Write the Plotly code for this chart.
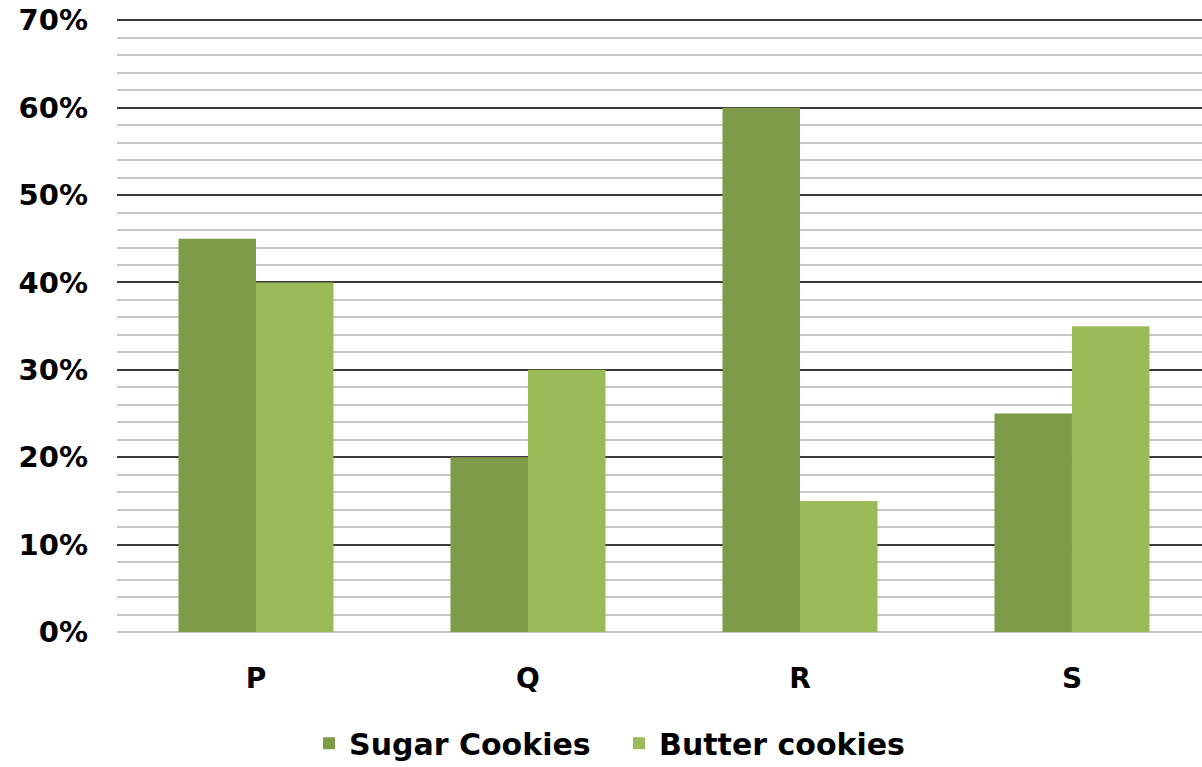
import plotly.graph_objects as go

categories = ["P", "Q", "R", "S"]
sugar = [0.45, 0.20, 0.60, 0.25]
butter = [0.40, 0.30, 0.15, 0.35]
ytick_vals = [0, 0.1, 0.2, 0.3, 0.4, 0.5, 0.6, 0.7]
ytick_text = ["0%", "10%", "20%", "30%", "40%", "50%", "60%", "70%"]

font_bold = "DejaVu Sans"

fig = go.Figure()
fig.add_trace(go.Bar(x=categories, y=sugar, name="Sugar Cookies",
                     marker=dict(color="#7F9A48", line=dict(width=0))))
fig.add_trace(go.Bar(x=categories, y=butter, name="Butter cookies",
                     marker=dict(color="#9BBB59", line=dict(width=0))))

fig.update_layout(
    width=1202, height=767,
    margin=dict(l=117, r=0, t=19, b=135, autoexpand=False),
    paper_bgcolor="white", plot_bgcolor="white",
    barmode="group", bargap=0.43, bargroupgap=0,
    font=dict(family=font_bold, color="#000000"),
    showlegend=True,
    legend=dict(orientation="h", x=0.515, xanchor="center", xref="container",
                y=0.031, yanchor="middle", yref="container",
                font=dict(size=30, family=font_bold, weight="bold"),
                itemwidth=30, traceorder="normal",
                entrywidth=265, entrywidthmode="pixels"),
    xaxis=dict(showgrid=False, showline=False, ticks="",
               range=[-0.511, 3.478],
               tickfont=dict(size=28, weight="bold"), ticklabelstandoff=27),
    yaxis=dict(range=[0, 0.7015], tickvals=ytick_vals, ticktext=ytick_text,
               tickfont=dict(size=29, weight="bold"),
               showgrid=True, gridcolor="#3a3a3a", gridwidth=2,
               zeroline=True, zerolinecolor="#c8c8c8", zerolinewidth=2,
               showline=False, ticks="", ticklabelstandoff=28,
               minor=dict(dtick=0.02, showgrid=True, gridcolor="#c8c8c8", gridwidth=2)),
)

fig.write_html("out.html")
